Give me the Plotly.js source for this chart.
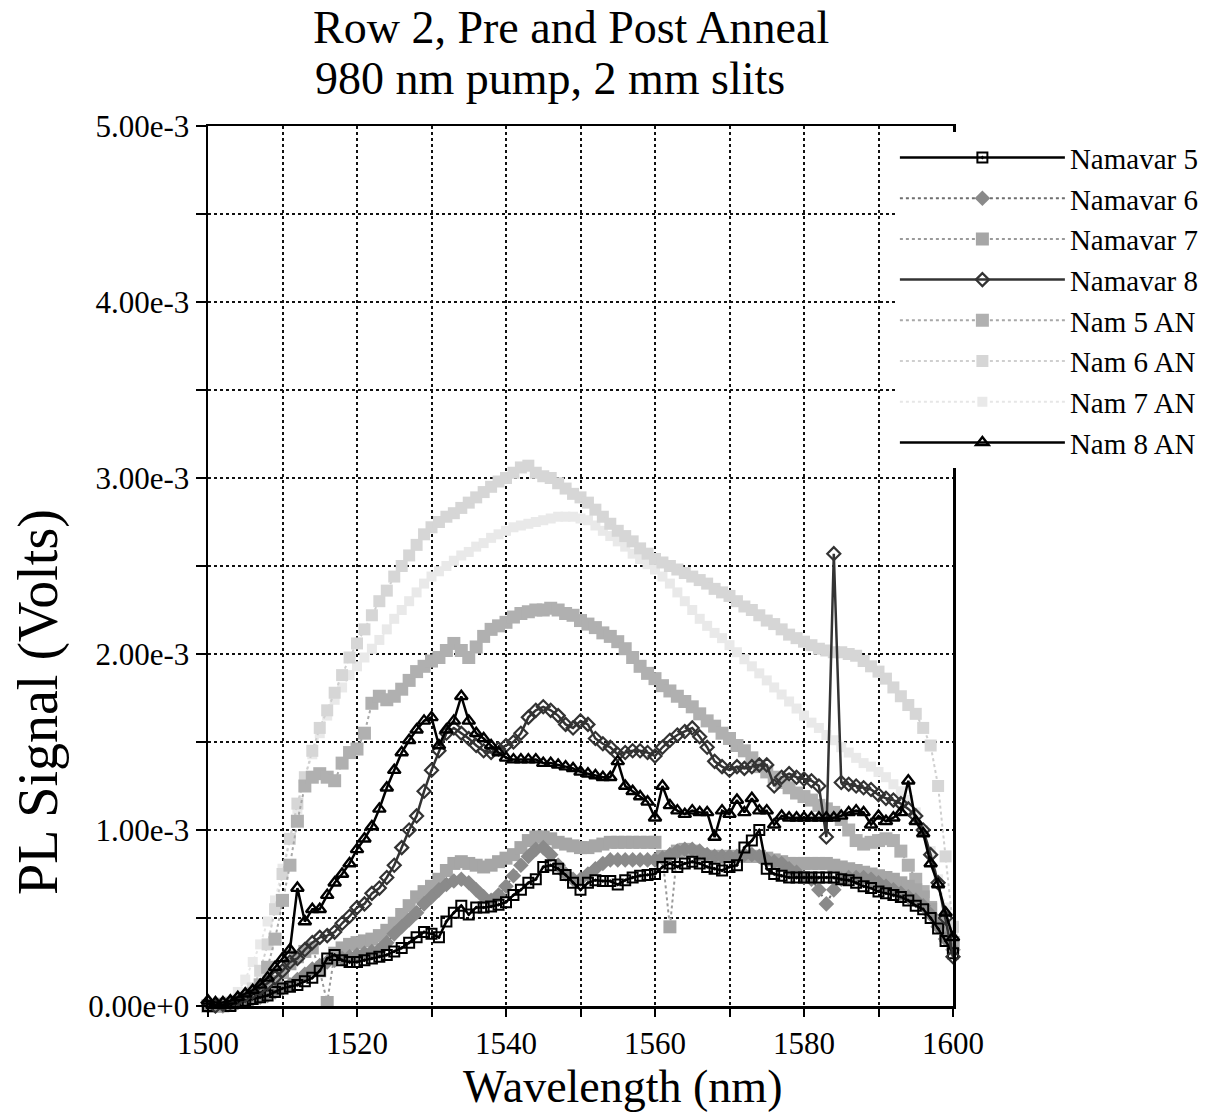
<!DOCTYPE html>
<html>
<head>
<meta charset="utf-8">
<script src="https://cdn.plot.ly/plotly-3.0.1.min.js"></script>
<style>html,body{margin:0;padding:0;background:#fff}#chart{width:1219px;height:1114px}</style>
</head>
<body>
<div id="chart"></div>
<script>
// Wavelength (nm)
const wavelength = [1500,1501,1502,1503,1504,1505,1506,1507,1508,1509,1510,1511,1512,1513,1514,1515,1516,1517,1518,1519,1520,1521,1522,1523,1524,1525,1526,1527,1528,1529,1530,1531,1532,1533,1534,1535,1536,1537,1538,1539,1540,1541,1542,1543,1544,1545,1546,1547,1548,1549,1550,1551,1552,1553,1554,1555,1556,1557,1558,1559,1560,1561,1562,1563,1564,1565,1566,1567,1568,1569,1570,1571,1572,1573,1574,1575,1576,1577,1578,1579,1580,1581,1582,1583,1584,1585,1586,1587,1588,1589,1590,1591,1592,1593,1594,1595,1596,1597,1598,1599,1600];

// PL signal in units of 1e-3 V
const namavar5 = [0.00,-0.05,-0.02,0.00,0.02,0.03,0.04,0.05,0.06,0.08,
0.10,0.11,0.12,0.14,0.16,0.20,0.27,0.29,0.26,0.25,
0.25,0.26,0.27,0.28,0.29,0.31,0.33,0.36,0.39,0.42,
0.41,0.39,0.48,0.53,0.57,0.52,0.56,0.56,0.565,0.575,
0.59,0.63,0.66,0.70,0.72,0.79,0.80,0.78,0.745,0.70,
0.66,0.70,0.715,0.71,0.71,0.69,0.715,0.73,0.74,0.745,
0.75,0.79,0.81,0.79,0.81,0.82,0.81,0.79,0.78,0.77,
0.79,0.80,0.90,0.94,1.00,0.78,0.75,0.74,0.73,0.73,
0.73,0.73,0.73,0.73,0.73,0.72,0.715,0.70,0.68,0.67,
0.65,0.64,0.63,0.62,0.60,0.57,0.55,0.50,0.44,0.37,
0.30];

const namavar6 = [0.00,0.00,0.00,0.01,0.02,0.03,0.04,0.05,0.06,0.08,
0.10,0.12,0.15,0.18,0.21,0.23,0.25,0.26,0.27,0.28,
0.29,0.30,0.31,0.32,0.36,0.41,0.45,0.49,0.53,0.58,
0.62,0.66,0.69,0.71,0.72,0.70,0.66,0.62,0.60,0.63,
0.68,0.74,0.80,0.85,0.89,0.90,0.86,0.80,0.75,0.72,
0.72,0.75,0.78,0.81,0.83,0.83,0.83,0.83,0.83,0.83,
0.83,0.84,0.86,0.88,0.89,0.89,0.88,0.86,0.85,0.85,
0.85,0.85,0.86,0.86,0.85,0.83,0.82,0.81,0.78,0.76,
0.73,0.72,0.66,0.58,0.66,0.72,0.73,0.73,0.73,0.72,
0.70,0.68,0.66,0.64,0.62,0.60,0.57,0.52,0.45,0.38,
0.32];

const namavar7 = [0.00,0.00,0.01,0.01,0.02,0.04,0.05,0.07,0.10,0.14,
0.19,0.24,0.28,0.31,0.33,0.20,0.02,0.30,0.33,0.35,
0.36,0.37,0.38,0.40,0.43,0.47,0.52,0.57,0.62,0.65,
0.68,0.72,0.77,0.81,0.82,0.81,0.80,0.79,0.80,0.82,
0.84,0.86,0.90,0.94,0.96,0.96,0.95,0.93,0.92,0.91,
0.90,0.90,0.91,0.92,0.93,0.93,0.93,0.93,0.93,0.93,
0.93,0.85,0.45,0.88,0.89,0.88,0.86,0.85,0.85,0.85,
0.85,0.85,0.85,0.85,0.85,0.84,0.83,0.82,0.81,0.81,
0.81,0.81,0.81,0.81,0.80,0.79,0.78,0.77,0.76,0.75,
0.74,0.73,0.72,0.70,0.68,0.66,0.62,0.55,0.48,0.41,
0.36];

const namavar8 = [0.02,0.00,0.01,0.02,0.04,0.06,0.08,0.10,0.13,0.16,
0.20,0.25,0.27,0.32,0.36,0.39,0.40,0.42,0.47,0.51,
0.56,0.58,0.64,0.67,0.73,0.80,0.90,1.00,1.08,1.22,
1.34,1.45,1.55,1.58,1.55,1.52,1.48,1.45,1.44,1.46,
1.48,1.50,1.55,1.64,1.68,1.70,1.68,1.65,1.60,1.58,
1.62,1.60,1.52,1.49,1.47,1.43,1.44,1.45,1.45,1.44,
1.42,1.47,1.51,1.54,1.56,1.58,1.53,1.47,1.39,1.36,
1.34,1.36,1.35,1.36,1.37,1.37,1.25,1.30,1.32,1.30,
1.29,1.28,1.25,0.96,2.57,1.27,1.26,1.25,1.24,1.23,
1.20,1.18,1.17,1.15,1.12,1.08,1.00,0.86,0.70,0.50,
0.28];

const nam5AN = [0.00,0.00,0.00,0.01,0.02,0.04,0.07,0.12,0.22,0.38,
0.60,0.80,1.05,1.25,1.30,1.32,1.30,1.28,1.38,1.44,
1.46,1.55,1.72,1.76,1.74,1.76,1.80,1.85,1.90,1.93,
1.96,1.98,2.02,2.06,2.02,1.98,2.04,2.10,2.14,2.16,
2.18,2.21,2.23,2.24,2.25,2.25,2.26,2.25,2.23,2.22,
2.19,2.17,2.15,2.12,2.10,2.07,2.03,1.98,1.93,1.89,
1.86,1.82,1.79,1.76,1.73,1.70,1.66,1.62,1.59,1.55,
1.52,1.48,1.45,1.41,1.36,1.33,1.30,1.27,1.24,1.21,
1.19,1.17,1.14,1.12,1.10,1.06,1.00,0.94,0.92,0.93,
0.94,0.95,0.94,0.88,0.80,0.72,0.65,0.56,0.48,0.40,
0.33];

const nam6AN = [0.00,0.00,0.01,0.02,0.03,0.05,0.10,0.20,0.35,0.55,
0.75,0.95,1.15,1.30,1.45,1.58,1.68,1.78,1.88,1.98,
2.06,2.14,2.22,2.30,2.36,2.44,2.50,2.56,2.62,2.68,
2.72,2.75,2.78,2.80,2.83,2.86,2.89,2.92,2.95,2.98,
3.00,3.03,3.06,3.07,3.03,3.01,3.00,2.97,2.94,2.91,
2.89,2.86,2.82,2.78,2.74,2.70,2.67,2.64,2.60,2.57,
2.54,2.52,2.50,2.48,2.46,2.44,2.42,2.40,2.37,2.35,
2.33,2.30,2.27,2.25,2.22,2.19,2.17,2.14,2.11,2.09,
2.07,2.05,2.03,2.02,2.01,2.01,2.00,1.99,1.96,1.93,
1.90,1.86,1.81,1.76,1.71,1.66,1.58,1.48,1.25,0.85,
0.45];

const nam7AN = [0.00,0.00,0.01,0.02,0.08,0.15,0.25,0.35,0.48,0.60,
0.78,0.95,1.12,1.30,1.43,1.55,1.65,1.74,1.81,1.88,
1.93,1.98,2.03,2.08,2.14,2.20,2.25,2.30,2.35,2.40,
2.44,2.47,2.50,2.53,2.56,2.58,2.61,2.63,2.66,2.68,
2.70,2.72,2.73,2.74,2.75,2.76,2.77,2.78,2.78,2.78,
2.77,2.76,2.73,2.70,2.67,2.64,2.61,2.57,2.54,2.51,
2.48,2.44,2.40,2.35,2.30,2.25,2.20,2.16,2.12,2.09,
2.05,2.01,1.97,1.93,1.89,1.85,1.81,1.77,1.73,1.69,
1.65,1.61,1.58,1.54,1.51,1.47,1.44,1.41,1.38,1.36,
1.33,1.30,1.26,1.22,1.17,1.10,1.00,0.88,0.72,0.56,
0.40];

const nam8AN = [0.03,0.02,0.02,0.03,0.05,0.07,0.09,0.12,0.16,0.22,
0.27,0.32,0.67,0.48,0.55,0.55,0.63,0.70,0.75,0.81,
0.89,0.95,1.02,1.12,1.24,1.34,1.44,1.51,1.57,1.62,
1.64,1.48,1.57,1.62,1.76,1.62,1.55,1.52,1.48,1.44,
1.41,1.40,1.40,1.40,1.40,1.38,1.38,1.37,1.36,1.35,
1.33,1.32,1.31,1.30,1.30,1.39,1.25,1.22,1.19,1.16,
1.07,1.25,1.14,1.11,1.09,1.11,1.10,1.10,0.96,1.11,
1.09,1.17,1.10,1.18,1.11,1.11,1.03,1.08,1.07,1.07,
1.07,1.07,1.07,1.07,1.07,1.08,1.10,1.11,1.10,1.03,
1.08,1.05,1.07,1.10,1.28,1.05,0.98,0.81,0.69,0.53,
0.39];

const seriesNames = ["Namavar 5","Namavar 6","Namavar 7","Namavar 8","Nam 5 AN","Nam 6 AN","Nam 7 AN","Nam 8 AN"];

const xTickVals = [1500,1510,1520,1530,1540,1550,1560,1570,1580,1590,1600];
const xTickText = ["1500","","1520","","1540","","1560","","1580","","1600"];
const yTickVals = [0,0.5,1,1.5,2,2.5,3,3.5,4,4.5,5];
const yTickText = ["0.00e+0","","1.00e-3","","2.00e-3","","3.00e-3","","4.00e-3","","5.00e-3"];

const titleLine1 = "Row 2, Pre and Post Anneal";
const titleLine2 = "980 nm pump, 2 mm slits";
const yTitle = "PL Signal (Volts)";
const xTitle = "Wavelength (nm)";

const serif = "Liberation Serif, Times New Roman, serif";

function tr(y, name, rank, line, marker) {
  return {x: wavelength, y: y, name: name, legendrank: rank, type: "scatter",
          mode: "lines+markers", line: line, marker: marker, cliponaxis: false};
}

const data = [
  tr(nam7AN, seriesNames[6], 7, {color:"#e6e6e6", width:2, dash:"dot"},
     {symbol:"square", size:10, color:"#e9e9e9"}),
  tr(nam6AN, seriesNames[5], 6, {color:"#cfcfcf", width:2, dash:"dot"},
     {symbol:"square", size:12, color:"#d6d6d6"}),
  tr(nam5AN, seriesNames[4], 5, {color:"#a8a8a8", width:2, dash:"dot"},
     {symbol:"square", size:13, color:"#b0b0b0"}),
  tr(namavar7, seriesNames[2], 3, {color:"#9a9a9a", width:2, dash:"dot"},
     {symbol:"square", size:13, color:"#a6a6a6"}),
  tr(namavar6, seriesNames[1], 2, {color:"#6e6e6e", width:2, dash:"dot"},
     {symbol:"diamond", size:12, color:"#8a8a8a"}),
  tr(namavar5, seriesNames[0], 1, {color:"#000", width:2.5},
     {symbol:"square-open-dot", size:10, color:"#000", line:{width:2, color:"#000"}}),
  tr(namavar8, seriesNames[3], 4, {color:"#333", width:2.5},
     {symbol:"diamond-open", size:10, color:"#333", line:{width:2.2, color:"#333"}}),
  tr(nam8AN, seriesNames[7], 8, {color:"#000", width:2.5},
     {symbol:"triangle-up-open", size:11, color:"#000", line:{width:2.4, color:"#000"}})
];

const layout = {
  width: 1219, height: 1114,
  margin: {l: 208, r: 266, t: 126, b: 108},
  paper_bgcolor: "#fff", plot_bgcolor: "#fff",
  font: {family: serif, color: "#000", size: 31},
  showlegend: true,
  title: {
    text: titleLine1,
    font: {family: serif, size: 46, color: "#000"},
    x: 313 / 1219, xref: "container", xanchor: "left",
    y: 1 - 27 / 1114, yref: "container", yanchor: "middle"
  },
  annotations: [
    {text: titleLine2, xref: "paper", yref: "paper", x: (313 - 208) / 745, y: 1 + (126 - 79) / 880,
     xanchor: "left", yanchor: "middle", showarrow: false,
     font: {family: serif, size: 46, color: "#000"}},
    {text: yTitle, xref: "paper", yref: "paper", x: (38 - 208) / 745, y: (1006 - 702) / 880,
     xanchor: "center", yanchor: "middle", textangle: -90, showarrow: false,
     font: {family: serif, size: 56, color: "#000"}},
    {text: xTitle, xref: "paper", yref: "paper", x: (622 - 208) / 745, y: -(1086 - 1006) / 880,
     xanchor: "center", yanchor: "middle", showarrow: false,
     font: {family: serif, size: 46, color: "#000"}}
  ],
  xaxis: {
    range: [1500, 1600], tickmode: "array", tickvals: xTickVals, ticktext: xTickText,
    ticks: "outside", ticklen: 8, tickwidth: 2, tickcolor: "#000",
    showline: true, linewidth: 2.5, linecolor: "#000", mirror: true,
    showgrid: true, gridcolor: "#111", gridwidth: 2, griddash: "dot",
    zeroline: false, tickfont: {family: serif, size: 31},
    automargin: false
  },
  yaxis: {
    range: [0, 5], tickmode: "array", tickvals: yTickVals, ticktext: yTickText,
    ticks: "outside", ticklen: 10, tickwidth: 2, tickcolor: "#000",
    showline: true, linewidth: 2.5, linecolor: "#000", mirror: true,
    showgrid: true, gridcolor: "#111", gridwidth: 2, griddash: "dot",
    zeroline: false, tickfont: {family: serif, size: 31},
    automargin: false
  },
  legend: {
    x: 0.922, y: 0.993, xanchor: "left", yanchor: "top", xref: "paper", yref: "paper",
    bgcolor: "#fff", borderwidth: 0, font: {family: serif, size: 29, color: "#000"},
    itemwidth: 165, tracegroupgap: 0, traceorder: "normal"
  }
};

Plotly.newPlot("chart", data, layout, {staticPlot: true, displayModeBar: false});
</script>
</body>
</html>
